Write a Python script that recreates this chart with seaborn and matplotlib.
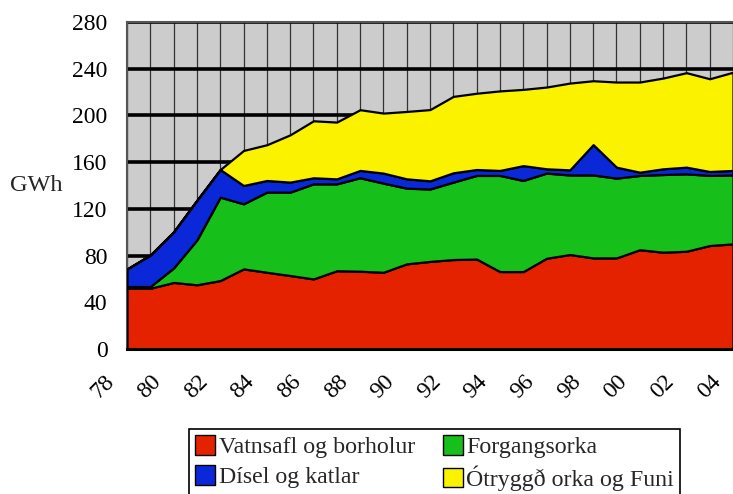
import matplotlib
matplotlib.use("Agg")
import matplotlib.pyplot as plt
import matplotlib.ticker as ticker
import matplotlib.transforms as mtransforms
from matplotlib.patches import Patch
import seaborn as sns
import numpy as np

years = list(range(1978, 2005))
vatnsafl = [52, 52, 57, 55, 58.6, 68.6, 65.7, 62.9, 60, 67, 66.6, 65.7, 72.9, 75,
            76.6, 77, 66.3, 66.3, 77.7, 80.9, 78, 78, 85, 82.9, 83.7, 88.6, 90]
forgangsorka = [1.5, 1.5, 12.4, 38.4, 71.4, 55.7, 68.6, 71.4, 81.4, 74.4, 80, 76.3, 64.8, 62,
                66.3, 71.6, 82.3, 78, 72.9, 68.1, 71, 68.3, 63.6, 66.5, 66.3, 60, 59]
disel = [15, 27, 31, 34, 23.7, 15.7, 10, 8.6, 5.2, 4.3, 6.3, 8.6, 8, 7,
         8, 5.1, 4.3, 12.7, 3.7, 4.4, 26, 9.4, 2.8, 4.9, 5.7, 3.4, 3.9]
otryggd = [0, 0, 0, 0, 0, 30, 30.6, 40.5, 48.8, 48.6, 52, 51.4, 57.7, 61,
           65.4, 65.3, 68.1, 65.3, 70, 74.3, 54.7, 72.9, 77.2, 77.7, 80.9, 79.4, 84.1]

labels = ['Vatnsafl og borholur', 'Forgangsorka', 'Dísel og katlar', 'Ótryggð orka og Funi']
colors = ['#E52200', '#17BF1A', '#0A28D8', '#FBF200']

sns.set_theme(style="white")
plt.rcParams['font.family'] = ['Liberation Serif', 'DejaVu Serif']

fig = plt.figure(figsize=(7.33, 4.94), dpi=100)
ax = fig.add_axes([127 / 733, 1 - 349 / 494, (733 - 127) / 733, (349 - 22) / 494])
ax.set_facecolor('#CCCCCC')

ax.stackplot(years, vatnsafl, forgangsorka, disel, otryggd, colors=colors,
             edgecolor='black', linewidth=1.6, zorder=3)

ax.set_xlim(1978, 2004)
ax.set_ylim(0, 280)
ax.xaxis.set_major_locator(ticker.MultipleLocator(2))
ax.xaxis.set_minor_locator(ticker.MultipleLocator(1))
ax.xaxis.set_major_formatter(ticker.FuncFormatter(lambda x, _: f'{int(x) % 100:02d}'))
ax.yaxis.set_major_locator(ticker.MultipleLocator(40))

ax.set_axisbelow(True)
ax.grid(axis='y', which='major', color='black', linewidth=2.6)
ax.grid(axis='x', which='both', color='#333333', linewidth=0.9)

ax.tick_params(axis='both', which='both', length=0, labelsize=17, colors='black')
ax.tick_params(axis='x', pad=16)
ax.tick_params(axis='y', pad=14)
offset = mtransforms.ScaledTranslation(-8 / 100, 0, fig.dpi_scale_trans)
for lab in ax.get_xticklabels():
    lab.set_rotation(45)
    lab.set_ha('right')
    lab.set_va('top')
    lab.set_transform(lab.get_transform() + offset)

ax.set_ylabel('GWh', rotation=0, fontsize=17.5, va='center', ha='center')
ax.yaxis.set_label_coords(-0.15, 0.5)

for side in ['top', 'left']:
    ax.spines[side].set_color('#555555')
    ax.spines[side].set_linewidth(1.5)
ax.spines['bottom'].set_color('black')
ax.spines['bottom'].set_linewidth(2.2)
ax.spines['bottom'].set_zorder(5)
ax.spines['right'].set_visible(False)

handles = [Patch(facecolor=c, edgecolor='black', linewidth=1.0) for c in colors]
order = [0, 2, 1, 3]
leg = fig.legend([handles[i] for i in order], [labels[i] for i in order],
                 loc='upper left', bbox_to_anchor=(189 / 733, 1 - 429 / 494),
                 ncol=2, fontsize=17.2, frameon=True, fancybox=False, framealpha=1,
                 edgecolor='black', handlelength=0.85, handleheight=0.9,
                 handletextpad=0.15, columnspacing=1.15, labelspacing=0.3,
                 borderpad=0.25, borderaxespad=0)
leg.get_frame().set_linewidth(1.2)

fig.savefig('out.png', dpi=100)
